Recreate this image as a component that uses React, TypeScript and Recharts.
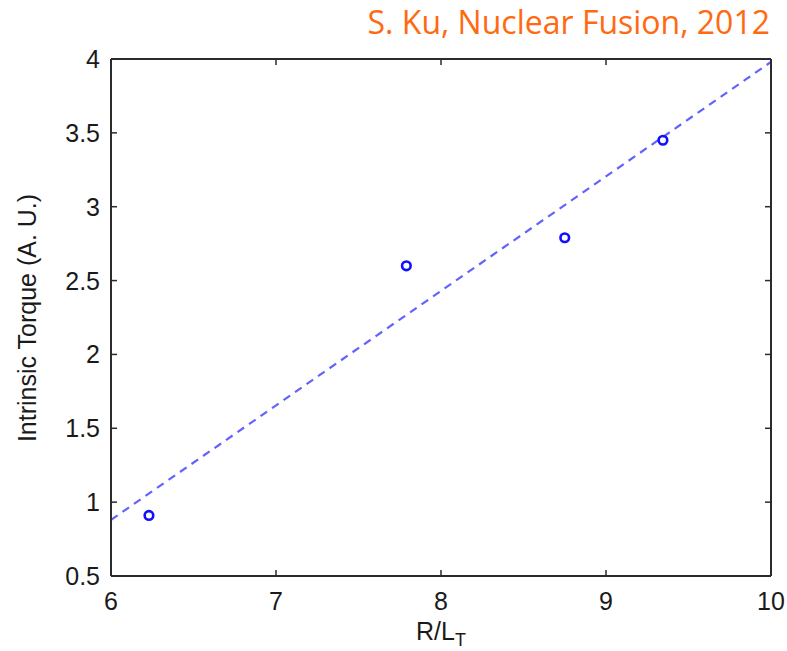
import React from 'react';
import {
  ScatterChart,
  Scatter,
  XAxis,
  YAxis,
  ReferenceLine,
} from 'recharts';

// measured points
const ratioLT = [6.23, 7.79, 8.75, 9.345];
const torque = [0.91, 2.6, 2.79, 3.45];

// least-squares fit, drawn dashed across the full x range
const fitX = [6, 10];
const fitY = [0.88, 3.98];

const xTicks = [6, 7, 8, 9, 10];
const yTicks = [0.5, 1, 1.5, 2, 2.5, 3, 3.5, 4];

const W = 787;
const H = 651;
const AXIS = '#2b2b2b';
const TICK_FONT = 'Arial, "Liberation Sans", Helvetica, sans-serif';
const TICK_LEN = 6;

const points = ratioLT.map((x, i) => ({ x, y: torque[i] }));

const BottomTick = (props: any) => {
  const { x, y, payload } = props;
  return (
    <g>
      <line x1={x} x2={x} y1={y} y2={y - TICK_LEN} stroke={AXIS} strokeWidth={1.5} />
      <text x={x} y={y + 34} textAnchor="middle" fontSize={25} fontFamily={TICK_FONT} fill="#1a1a1a">
        {payload.value}
      </text>
    </g>
  );
};

const TopTick = (props: any) => {
  const { x, y } = props;
  return <line x1={x} x2={x} y1={y} y2={y + TICK_LEN} stroke={AXIS} strokeWidth={1.5} />;
};

const LeftTick = (props: any) => {
  const { x, y, payload } = props;
  return (
    <g>
      <line x1={x} x2={x + TICK_LEN} y1={y} y2={y} stroke={AXIS} strokeWidth={1.5} />
      <text x={x - 11} y={y + 9} textAnchor="end" fontSize={25} fontFamily={TICK_FONT} fill="#1a1a1a">
        {payload.value}
      </text>
    </g>
  );
};

const RightTick = (props: any) => {
  const { x, y } = props;
  return <line x1={x} x2={x - TICK_LEN} y1={y} y2={y} stroke={AXIS} strokeWidth={1.5} />;
};

const Ring = (props: any) => {
  const { cx, cy } = props;
  return <circle cx={cx} cy={cy} r={4.3} fill="none" stroke="#1010ff" strokeWidth={2.6} />;
};

export default function App() {
  return (
    <div style={{ position: 'absolute', left: 0, top: 0, width: W, height: H, background: '#fff' }}>
      <div
        style={{
          position: 'absolute',
          right: 17,
          top: 0,
          fontFamily: '"Open Sans", sans-serif',
          fontSize: 32,
          lineHeight: '44px',
          color: '#ff6a10',
          whiteSpace: 'nowrap',
        }}
      >
        S. Ku, Nuclear Fusion, 2012
      </div>
      <ScatterChart width={W} height={H} margin={{ top: 29, right: 0, left: 0, bottom: 0 }}>
        <XAxis
          xAxisId="b"
          type="number"
          dataKey="x"
          orientation="bottom"
          domain={[6, 10]}
          ticks={xTicks}
          interval={0}
          height={75}
          tickSize={0}
          tickMargin={0}
          tick={<BottomTick />}
          tickLine={false}
          axisLine={{ stroke: AXIS, strokeWidth: 2 }}
          allowDataOverflow
        />
        <XAxis
          xAxisId="t"
          type="number"
          dataKey="x"
          orientation="top"
          domain={[6, 10]}
          ticks={xTicks}
          interval={0}
          height={30}
          tickSize={0}
          tickMargin={0}
          tick={<TopTick />}
          tickLine={false}
          axisLine={{ stroke: AXIS, strokeWidth: 2 }}
          allowDataOverflow
        />
        <YAxis
          yAxisId="l"
          type="number"
          dataKey="y"
          orientation="left"
          domain={[0.5, 4]}
          ticks={yTicks}
          interval={0}
          width={111}
          tickSize={0}
          tickMargin={0}
          tick={<LeftTick />}
          tickLine={false}
          axisLine={{ stroke: AXIS, strokeWidth: 2 }}
          allowDataOverflow
        />
        <YAxis
          yAxisId="r"
          type="number"
          dataKey="y"
          orientation="right"
          domain={[0.5, 4]}
          ticks={yTicks}
          interval={0}
          width={16}
          tickSize={0}
          tickMargin={0}
          tick={<RightTick />}
          tickLine={false}
          axisLine={{ stroke: AXIS, strokeWidth: 2 }}
          allowDataOverflow
        />
        <ReferenceLine
          xAxisId="b"
          yAxisId="l"
          segment={[
            { x: fitX[0], y: fitY[0] },
            { x: fitX[1], y: fitY[1] },
          ]}
          stroke="#6262ff"
          strokeWidth={2.2}
          strokeDasharray="8 6"
        />
        <Scatter
          xAxisId="b"
          yAxisId="l"
          data={points}
          shape={<Ring />}
          isAnimationActive={false}
        />
      </ScatterChart>
      <svg
        width={W}
        height={H}
        style={{ position: 'absolute', left: 0, top: 0, pointerEvents: 'none' }}
      >
        <text
          transform="rotate(-90 36 318)"
          x={36}
          y={318}
          textAnchor="middle"
          fontSize={25}
          fontFamily={TICK_FONT}
          fill="#1a1a1a"
        >
          Intrinsic Torque (A. U.)
        </text>
        <text x={441} y={640} textAnchor="middle" fontSize={25} fontFamily={TICK_FONT} fill="#1a1a1a">
          R/L
          <tspan fontSize={18} dy={6}>T</tspan>
        </text>
      </svg>
    </div>
  );
}
